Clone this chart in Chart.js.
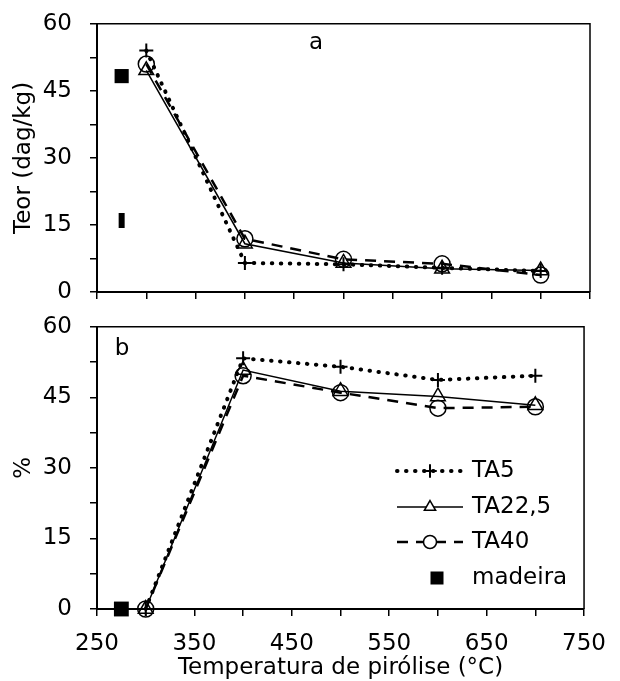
<!DOCTYPE html>
<html><head><meta charset="utf-8">
<script src="https://cdn.jsdelivr.net/npm/chart.js@4/dist/chart.umd.min.js"></script>
<style>
html,body{margin:0;padding:0;background:#fff;overflow:hidden;}
#wrap{position:relative;width:620px;height:681px;overflow:hidden;}
canvas{position:absolute;left:0;}
</style></head><body>
<div id="wrap">
<canvas id="c1" width="620" height="332" style="top:-8px"></canvas>
<canvas id="c2" width="620" height="386" style="top:295px"></canvas>
</div>
<script>
// ---- data ----
const temperatures = [300, 400, 500, 600, 700];
const seriesNames = ['TA5', 'TA22,5', 'TA40'];
const teorTA5  = [54.0, 6.5, 6.2, 5.4, 4.7];
const teorTA22 = [49.6, 10.8, 6.5, 5.2, 4.8];
const teorTA40 = [51.0, 11.9, 7.3, 6.3, 3.8];
const rendTA5  = [0, 53.3, 51.5, 48.7, 49.6];
const rendTA22 = [0, 50.8, 46.3, 45.2, 43.3];
const rendTA40 = [0, 49.6, 46.0, 42.7, 43.0];
const madeiraName = 'madeira';
const madeiraTemp = [275];
const madeiraTeor = [48.3];
const madeiraTeor2 = [16.0];
const madeiraRend = [0];
const xTickLabels = [250, 350, 450, 550, 650, 750];
const yTickLabels = [0, 15, 30, 45, 60];

const FONT = '"DejaVu Sans", Arial, sans-serif';
const FS = 23;

function pts(xs, ys){ return xs.map((x,i)=>({x:x, y:ys[i]})); }

const styles = [
  {borderDash:[0.5,8.5], borderCapStyle:'round', borderWidth:4, pointStyle:'cross', pointRadius:7, pointBorderWidth:2},
  {borderDash:[], borderCapStyle:'butt', borderWidth:1.5, pointStyle:'triangle', pointRadius:8.5, pointBorderWidth:1.5},
  {borderDash:[11,8], borderCapStyle:'butt', borderWidth:2.5, pointStyle:'circle', pointRadius:8, pointBorderWidth:1.5}
];

function seriesDs(name, ys, st){
  return Object.assign({
    label:name, data:pts(temperatures, ys), showLine:true,
    borderColor:'#000', backgroundColor:'rgba(0,0,0,0)',
    pointBorderColor:'#000', pointBackgroundColor:'rgba(0,0,0,0)',
    clip:false
  }, st);
}

function xScale(showLabels, height){
  const o = {
    type:'linear', min:250, max:750,
    ticks:{stepSize:50, color:'#000', font:{size:FS, family:FONT}, padding:14, maxRotation:0, autoSkip:false,
      callback:(v)=> showLabels && xTickLabels.includes(v) ? String(v) : ''},
    grid:{drawOnChartArea:false, drawTicks:true, tickLength:7, color:'#000', lineWidth:1.5},
    border:{color:'#000', width:2},
    title:{display:false},
    afterFit:(s)=>{ s.height = height; }
  };
  if (showLabels) {
    o.title = {display:true, text:'Temperatura de pirólise (°C)', color:'#000', font:{size:FS, family:FONT, lineHeight:1.0}, padding:{top:0,bottom:1}};
  }
  return o;
}
function yScale(title){
  return {
    type:'linear', min:0, max:60,
    ticks:{stepSize:7.5, color:'#000', font:{size:FS, family:FONT}, padding:18, autoSkip:false,
      callback:(v)=> yTickLabels.includes(v) ? String(v) : ''},
    grid:{drawOnChartArea:false, drawTicks:true, tickLength:7, color:'#000', lineWidth:1.5},
    border:{color:'#000', width:2},
    title:{display:true, text:title, color:'#000', font:{size:FS, family:FONT}, padding:{top:10,bottom:0}},
    afterFit:(s)=>{ s.width = 97; }
  };
}

function boxPlugin(letter, lx, ly){
  return {
    id:'box'+letter,
    afterDraw(chart){
      const a = chart.chartArea, ctx = chart.ctx;
      ctx.save();
      ctx.strokeStyle = '#000'; ctx.lineWidth = 1.5;
      ctx.beginPath();
      ctx.moveTo(a.left, a.top); ctx.lineTo(a.right, a.top); ctx.lineTo(a.right, a.bottom);
      ctx.stroke();
      ctx.fillStyle = '#000';
      ctx.font = FS + 'px ' + FONT;
      ctx.textAlign = 'center'; ctx.textBaseline = 'middle';
      ctx.fillText(letter, lx, ly);
      ctx.restore();
    }
  };
}

function drawMarker(ctx, style, x, y, r){
  ctx.save();
  ctx.strokeStyle = '#000'; ctx.fillStyle = '#000';
  ctx.setLineDash([]);
  if (style === 'cross') {
    ctx.lineWidth = 2;
    ctx.beginPath(); ctx.moveTo(x-r, y); ctx.lineTo(x+r, y); ctx.moveTo(x, y-r); ctx.lineTo(x, y+r); ctx.stroke();
  } else if (style === 'triangle') {
    ctx.lineWidth = 1.5;
    const s = r*Math.sqrt(3)/2;
    ctx.beginPath(); ctx.moveTo(x, y-r); ctx.lineTo(x+s, y+r/2); ctx.lineTo(x-s, y+r/2); ctx.closePath(); ctx.fillStyle='#fff'; ctx.fill(); ctx.stroke();
  } else if (style === 'circle') {
    ctx.lineWidth = 1.5;
    ctx.beginPath(); ctx.arc(x, y, r, 0, Math.PI*2); ctx.fillStyle='#fff'; ctx.fill(); ctx.stroke();
  } else if (style === 'rect') {
    ctx.fillRect(x-r, y-r, 2*r, 2*r);
  }
  ctx.restore();
}

const legendPlugin = {
  id:'legendCustom',
  afterDraw(chart){
    const ctx = chart.ctx;
    const rows = [176, 212, 247, 283];
    const x0 = 397, x1 = 463, xm = 430, tx = 472;
    ctx.save();
    for (let i=0;i<3;i++){
      const st = styles[i], y = rows[i];
      ctx.strokeStyle='#000'; ctx.lineWidth = st.borderWidth; ctx.lineCap = st.borderCapStyle;
      ctx.setLineDash(st.borderDash);
      ctx.beginPath(); ctx.moveTo(x0, y); ctx.lineTo(x1, y); ctx.stroke();
      drawMarker(ctx, st.pointStyle, xm, y, i===0 ? 6 : 6.5);
    }
    drawMarker(ctx, 'rect', 437, rows[3], 6.5);
    ctx.fillStyle='#000'; ctx.font = FS + 'px ' + FONT; ctx.textAlign='left'; ctx.textBaseline='middle';
    seriesNames.forEach((n,i)=> ctx.fillText(n, tx, rows[i]));
    ctx.fillText(madeiraName, tx, rows[3]);
    ctx.restore();
  }
};

const common = {responsive:false, animation:false, plugins:{legend:{display:false}, tooltip:{enabled:false}}};

new Chart(document.getElementById('c1'), {
  type:'scatter',
  data:{datasets:[
    seriesDs(seriesNames[0], teorTA5, styles[0]),
    seriesDs(seriesNames[1], teorTA22, styles[1]),
    seriesDs(seriesNames[2], teorTA40, styles[2]),
    {label:madeiraName, data:pts(madeiraTemp, madeiraTeor), showLine:false, pointStyle:'rect', pointRadius:10,
     pointBackgroundColor:'#000', pointBorderColor:'#000', pointBorderWidth:0, clip:false},
    {label:madeiraName+' (2)', data:pts(madeiraTemp, madeiraTeor2), showLine:false, pointStyle:'line', rotation:90, pointRadius:7.5,
     pointBorderColor:'#000', pointBorderWidth:6, clip:false}
  ]},
  options:Object.assign({}, common, {
    layout:{padding:{left:0,right:30,top:30,bottom:0}},
    scales:{x:xScale(false, 32), y:yScale('Teor (dag/kg)')}
  }),
  plugins:[boxPlugin('a', 316, 51)]
});

new Chart(document.getElementById('c2'), {
  type:'scatter',
  data:{datasets:[
    seriesDs(seriesNames[0], rendTA5, styles[0]),
    seriesDs(seriesNames[1], rendTA22, styles[1]),
    seriesDs(seriesNames[2], rendTA40, styles[2]),
    {label:madeiraName, data:pts(madeiraTemp, madeiraRend), showLine:false, pointStyle:'rect', pointRadius:10.5,
     pointBackgroundColor:'#000', pointBorderColor:'#000', pointBorderWidth:0, clip:false}
  ]},
  options:Object.assign({}, common, {
    layout:{padding:{left:0,right:30,top:30,bottom:0}},
    scales:{x:xScale(true, 72), y:yScale('%')}
  }),
  plugins:[boxPlugin('b', 122, 54), legendPlugin]
});
</script>
</body></html>
